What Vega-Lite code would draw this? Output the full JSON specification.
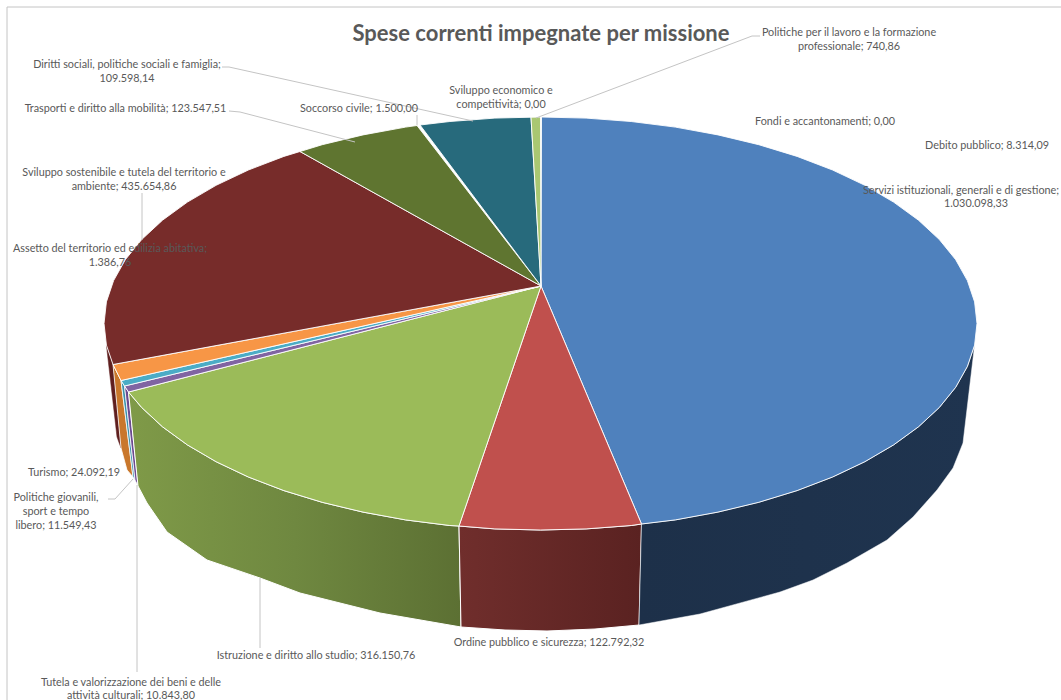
{"$schema":"https://vega.github.io/schema/vega-lite/v6.json","width":1061,"height":700,"padding":0,"autosize":"none","background":"#ffffff","config":{"view":{"stroke":null}},
"datasets":{
"sides":[
{"p":"Assetto","x":106.4,"y":345.1},{"p":"Assetto","x":113,"y":364.5},{"p":"Assetto","x":121,"y":448},{"p":"Assetto","x":117,"y":437},{"p":"Assetto","x":106.4,"y":345.1},
{"p":"Turismo","x":113,"y":364.5},{"p":"Turismo","x":121,"y":380.5},{"p":"Turismo","x":133,"y":477},{"p":"Turismo","x":127,"y":470},{"p":"Turismo","x":121,"y":448},{"p":"Turismo","x":113,"y":364.5},
{"p":"Politiche","x":121,"y":380.5},{"p":"Politiche","x":124.5,"y":386},{"p":"Politiche","x":135,"y":480},{"p":"Politiche","x":133,"y":477},{"p":"Politiche","x":121,"y":380.5},
{"p":"Tutela","x":124.5,"y":386},{"p":"Tutela","x":128.5,"y":392},{"p":"Tutela","x":138,"y":486},{"p":"Tutela","x":135,"y":480},{"p":"Tutela","x":124.5,"y":386},
{"p":"Istruzione","x":459,"y":526},{"p":"Istruzione","x":449.8,"y":525.5},{"p":"Istruzione","x":405.6,"y":519.9},{"p":"Istruzione","x":363,"y":512.1},{"p":"Istruzione","x":322.2,"y":502.3},{"p":"Istruzione","x":283.9,"y":490.6},{"p":"Istruzione","x":248.4,"y":477},{"p":"Istruzione","x":216.1,"y":461.7},{"p":"Istruzione","x":187.4,"y":444.9},{"p":"Istruzione","x":162.5,"y":426.8},{"p":"Istruzione","x":141.7,"y":407.5},{"p":"Istruzione","x":128.5,"y":392},{"p":"Istruzione","x":138,"y":486},{"p":"Istruzione","x":147,"y":503},{"p":"Istruzione","x":167,"y":532},{"p":"Istruzione","x":207,"y":560},{"p":"Istruzione","x":260,"y":578},{"p":"Istruzione","x":300,"y":593},{"p":"Istruzione","x":380,"y":613},{"p":"Istruzione","x":461,"y":627},{"p":"Istruzione","x":459,"y":526},
{"p":"Ordine","x":641.5,"y":524},{"p":"Ordine","x":631.2,"y":525.5},{"p":"Ordine","x":586.1,"y":528.9},{"p":"Ordine","x":540.5,"y":530},{"p":"Ordine","x":494.9,"y":528.9},{"p":"Ordine","x":459,"y":526},{"p":"Ordine","x":461,"y":627},{"p":"Ordine","x":505,"y":630},{"p":"Ordine","x":547,"y":631},{"p":"Ordine","x":595,"y":629},{"p":"Ordine","x":639,"y":625},{"p":"Ordine","x":641.5,"y":524},
{"p":"Servizi","x":974.6,"y":345.1},{"p":"Servizi","x":967.4,"y":366.4},{"p":"Servizi","x":955.7,"y":387.3},{"p":"Servizi","x":939.3,"y":407.5},{"p":"Servizi","x":918.5,"y":426.8},{"p":"Servizi","x":893.6,"y":444.9},{"p":"Servizi","x":864.9,"y":461.7},{"p":"Servizi","x":832.6,"y":477},{"p":"Servizi","x":797.1,"y":490.6},{"p":"Servizi","x":758.8,"y":502.3},{"p":"Servizi","x":718,"y":512.1},{"p":"Servizi","x":675.4,"y":519.9},{"p":"Servizi","x":641.5,"y":524},{"p":"Servizi","x":639,"y":625},{"p":"Servizi","x":700,"y":614},{"p":"Servizi","x":780,"y":592},{"p":"Servizi","x":813,"y":580},{"p":"Servizi","x":847,"y":563},{"p":"Servizi","x":887,"y":540},{"p":"Servizi","x":913,"y":517},{"p":"Servizi","x":937,"y":490},{"p":"Servizi","x":953,"y":468},{"p":"Servizi","x":963,"y":443},{"p":"Servizi","x":974.6,"y":345.1}
],
"tops":[
{"p":"Servizi","x":541,"y":286},{"p":"Servizi","x":541.5,"y":117},{"p":"Servizi","x":586.1,"y":118.1},{"p":"Servizi","x":631.2,"y":121.5},{"p":"Servizi","x":675.4,"y":127.1},{"p":"Servizi","x":718,"y":134.9},{"p":"Servizi","x":758.8,"y":144.7},{"p":"Servizi","x":797.1,"y":156.4},{"p":"Servizi","x":832.6,"y":170},{"p":"Servizi","x":864.9,"y":185.3},{"p":"Servizi","x":893.6,"y":202.1},{"p":"Servizi","x":918.5,"y":220.2},{"p":"Servizi","x":939.3,"y":239.5},{"p":"Servizi","x":955.7,"y":259.7},{"p":"Servizi","x":967.4,"y":280.6},{"p":"Servizi","x":974.6,"y":301.9},{"p":"Servizi","x":977,"y":323.5},{"p":"Servizi","x":974.6,"y":345.1},{"p":"Servizi","x":967.4,"y":366.4},{"p":"Servizi","x":955.7,"y":387.3},{"p":"Servizi","x":939.3,"y":407.5},{"p":"Servizi","x":918.5,"y":426.8},{"p":"Servizi","x":893.6,"y":444.9},{"p":"Servizi","x":864.9,"y":461.7},{"p":"Servizi","x":832.6,"y":477},{"p":"Servizi","x":797.1,"y":490.6},{"p":"Servizi","x":758.8,"y":502.3},{"p":"Servizi","x":718,"y":512.1},{"p":"Servizi","x":675.4,"y":519.9},{"p":"Servizi","x":641.5,"y":524},{"p":"Servizi","x":541,"y":286},
{"p":"Ordine","x":541,"y":286},{"p":"Ordine","x":641.5,"y":524},{"p":"Ordine","x":631.2,"y":525.5},{"p":"Ordine","x":586.1,"y":528.9},{"p":"Ordine","x":540.5,"y":530},{"p":"Ordine","x":494.9,"y":528.9},{"p":"Ordine","x":459,"y":526},{"p":"Ordine","x":541,"y":286},
{"p":"Istruzione","x":541,"y":286},{"p":"Istruzione","x":459,"y":526},{"p":"Istruzione","x":449.8,"y":525.5},{"p":"Istruzione","x":405.6,"y":519.9},{"p":"Istruzione","x":363,"y":512.1},{"p":"Istruzione","x":322.2,"y":502.3},{"p":"Istruzione","x":283.9,"y":490.6},{"p":"Istruzione","x":248.4,"y":477},{"p":"Istruzione","x":216.1,"y":461.7},{"p":"Istruzione","x":187.4,"y":444.9},{"p":"Istruzione","x":162.5,"y":426.8},{"p":"Istruzione","x":141.7,"y":407.5},{"p":"Istruzione","x":128.5,"y":392},{"p":"Istruzione","x":541,"y":286},
{"p":"Tutela","x":541,"y":286},{"p":"Tutela","x":128.5,"y":392},{"p":"Tutela","x":124.5,"y":386},{"p":"Tutela","x":541,"y":286},
{"p":"Politiche","x":541,"y":286},{"p":"Politiche","x":124.5,"y":386},{"p":"Politiche","x":121,"y":380.5},{"p":"Politiche","x":541,"y":286},
{"p":"Turismo","x":541,"y":286},{"p":"Turismo","x":121,"y":380.5},{"p":"Turismo","x":113,"y":364.5},{"p":"Turismo","x":541,"y":286},
{"p":"Sostenibile","x":541,"y":286},{"p":"Sostenibile","x":113,"y":364.5},{"p":"Sostenibile","x":106.4,"y":345.1},{"p":"Sostenibile","x":104,"y":323.5},{"p":"Sostenibile","x":106.4,"y":301.9},{"p":"Sostenibile","x":113.6,"y":280.6},{"p":"Sostenibile","x":125.3,"y":259.7},{"p":"Sostenibile","x":141.7,"y":239.5},{"p":"Sostenibile","x":162.5,"y":220.2},{"p":"Sostenibile","x":187.4,"y":202.1},{"p":"Sostenibile","x":216.1,"y":185.3},{"p":"Sostenibile","x":248.4,"y":170},{"p":"Sostenibile","x":283.9,"y":156.4},{"p":"Sostenibile","x":300,"y":151.5},{"p":"Sostenibile","x":541,"y":286},
{"p":"Trasporti","x":541,"y":286},{"p":"Trasporti","x":300,"y":151.5},{"p":"Trasporti","x":322.2,"y":144.7},{"p":"Trasporti","x":363,"y":134.9},{"p":"Trasporti","x":405.6,"y":127.1},{"p":"Trasporti","x":417,"y":125.5},{"p":"Trasporti","x":541,"y":286},
{"p":"Diritti","x":541,"y":286},{"p":"Diritti","x":420,"y":125},{"p":"Diritti","x":449.8,"y":121.5},{"p":"Diritti","x":494.9,"y":118.1},{"p":"Diritti","x":531,"y":117.2},{"p":"Diritti","x":541,"y":286},
{"p":"Lavoro","x":541,"y":286},{"p":"Lavoro","x":531,"y":117.2},{"p":"Lavoro","x":540.5,"y":117},{"p":"Lavoro","x":541,"y":286}
],
"leaders":[
{"k":"Diritti","x":222,"y":67},{"k":"Diritti","x":229,"y":67},{"k":"Diritti","x":473,"y":121},
{"k":"Trasporti","x":229,"y":111},{"k":"Trasporti","x":240,"y":112},{"k":"Trasporti","x":355,"y":142},
{"k":"Soccorso","x":417,"y":115},{"k":"Soccorso","x":417,"y":125},
{"k":"Sostenibile","x":142,"y":193},{"k":"Sostenibile","x":142,"y":240},
{"k":"Lavoro","x":760,"y":36},{"k":"Lavoro","x":752,"y":36},{"k":"Lavoro","x":536,"y":118},
{"k":"Istruzione","x":260,"y":578},{"k":"Istruzione","x":260,"y":648},
{"k":"Tutela","x":137,"y":485},{"k":"Tutela","x":137,"y":672},
{"k":"Politiche","x":133,"y":479},{"k":"Politiche","x":115,"y":499},{"k":"Politiche","x":108,"y":499},
{"k":"Cornice","x":1061,"y":7},{"k":"Cornice","x":7,"y":7},{"k":"Cornice","x":7,"y":700}
],
"labels":[
{"t":"Politiche per il lavoro e la formazione","x":849,"y":32},{"t":"professionale; 740,86","x":849,"y":46},
{"t":"Sviluppo economico e","x":501,"y":90},{"t":"competitività; 0,00","x":501,"y":104},
{"t":"Fondi e accantonamenti; 0,00","x":825,"y":121},
{"t":"Debito pubblico; 8.314,09","x":987,"y":145},
{"t":"Servizi istituzionali, generali e di gestione;","x":961,"y":190},{"t":"1.030.098,33","x":976,"y":203},
{"t":"Diritti sociali, politiche sociali e famiglia;","x":127,"y":64},{"t":"109.598,14","x":127,"y":78},
{"t":"Trasporti e diritto alla mobilità; 123.547,51","x":125.5,"y":108},
{"t":"Soccorso civile; 1.500,00","x":359,"y":108},
{"t":"Sviluppo sostenibile e tutela del territorio e","x":124,"y":172},{"t":"ambiente; 435.654,86","x":124,"y":186},
{"t":"Assetto del territorio ed edilizia abitativa;","x":110,"y":248},{"t":"1.386,76","x":110,"y":262},
{"t":"Turismo; 24.092,19","x":74,"y":472},
{"t":"Politiche giovanili,","x":56,"y":497},{"t":"sport e tempo","x":56,"y":511},{"t":"libero; 11.549,43","x":56,"y":525},
{"t":"Tutela e valorizzazione dei beni e delle","x":131,"y":682},{"t":"attività culturali; 10.843,80","x":131,"y":695},
{"t":"Istruzione e diritto allo studio; 316.150,76","x":316,"y":655},
{"t":"Ordine pubblico e sicurezza; 122.792,32","x":549,"y":642}
],
"title":[{"t":"Spese correnti impegnate per missione","x":541,"y":34}]
},
"encoding":{
"x":{"field":"x","type":"quantitative","scale":{"domain":[0,1061],"nice":false,"zero":false},"axis":null},
"y":{"field":"y","type":"quantitative","scale":{"domain":[700,0],"nice":false,"zero":false},"axis":null}
},
"layer":[
{"data":{"name":"sides"},"transform":[{"filter":"datum.p==='Assetto'"}],"mark":{"type":"line","fill":"#5f1f1f","stroke":"#5f1f1f","strokeWidth":0.5},"encoding":{"order":{"value":null}}},
{"data":{"name":"sides"},"transform":[{"filter":"datum.p==='Turismo'"}],"mark":{"type":"line","fill":"#c9772b","stroke":"#ffffff","strokeWidth":0.8},"encoding":{"order":{"value":null}}},
{"data":{"name":"sides"},"transform":[{"filter":"datum.p==='Politiche'"}],"mark":{"type":"line","fill":"#3a92ab","stroke":"#ffffff","strokeWidth":0.8},"encoding":{"order":{"value":null}}},
{"data":{"name":"sides"},"transform":[{"filter":"datum.p==='Tutela'"}],"mark":{"type":"line","fill":"#6b4a91","stroke":"#ffffff","strokeWidth":0.8},"encoding":{"order":{"value":null}}},
{"data":{"name":"sides"},"transform":[{"filter":"datum.p==='Istruzione'"}],"mark":{"type":"line","stroke":"#ffffff","strokeWidth":1,"fill":{"gradient":"linear","x1":0,"y1":0,"x2":1,"y2":0,"stops":[{"offset":0,"color":"#7f9a48"},{"offset":0.5,"color":"#6f8840"},{"offset":1,"color":"#5c7033"}]}},"encoding":{"order":{"value":null}}},
{"data":{"name":"sides"},"transform":[{"filter":"datum.p==='Ordine'"}],"mark":{"type":"line","stroke":"#ffffff","strokeWidth":1,"fill":{"gradient":"linear","x1":0,"y1":0,"x2":1,"y2":0,"stops":[{"offset":0,"color":"#702e2c"},{"offset":1,"color":"#5a2221"}]}},"encoding":{"order":{"value":null}}},
{"data":{"name":"sides"},"transform":[{"filter":"datum.p==='Servizi'"}],"mark":{"type":"line","stroke":"#ffffff","strokeWidth":0.5,"fill":{"gradient":"linear","x1":0,"y1":0,"x2":1,"y2":0,"stops":[{"offset":0,"color":"#1d3049"},{"offset":1,"color":"#1f344f"}]}},"encoding":{"order":{"value":null}}},
{"data":{"name":"tops"},"mark":{"type":"line","stroke":"#ffffff","strokeWidth":0.9},"encoding":{"order":{"value":null},"fill":{"field":"p","type":"nominal","legend":null,"scale":{"domain":["Servizi","Ordine","Istruzione","Tutela","Politiche","Turismo","Sostenibile","Trasporti","Diritti","Lavoro"],"range":["#4f81bd","#c0504d","#9bbb59","#8064a2","#4bacc6","#f79646","#772c2a","#5f7530","#276a7c","#a9c772"]}}}},
{"data":{"name":"leaders"},"mark":{"type":"line","stroke":"#c4c4c4","strokeWidth":1},"encoding":{"order":{"value":null},"detail":{"field":"k"}}},
{"data":{"name":"labels"},"mark":{"type":"text","font":"Lato","fontSize":10.8,"color":"#595959","align":"center","baseline":"middle","dy":1},"encoding":{"text":{"field":"t"}}},
{"data":{"name":"title"},"mark":{"type":"text","font":"Lato","fontSize":22,"fontWeight":"bold","color":"#595959","align":"center","baseline":"middle"},"encoding":{"text":{"field":"t"}}}
]}
